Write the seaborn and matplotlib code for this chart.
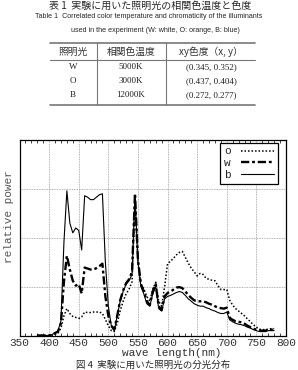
import numpy as np
import pandas as pd
import matplotlib
matplotlib.use("Agg")
import matplotlib.pyplot as plt
from matplotlib.lines import Line2D
import seaborn as sns

# ---------------- data ----------------
wavelength = list(range(380, 785, 5))

series_o = [0, 0, 0, 0, 0, 0, 0.02, 0.05, 0.15, 0.4,
            0.55, 0.45, 0.39, 0.37, 0.35, 0.38, 0.48, 0.47, 0.47, 0.48,
            0.48, 0.48, 0.45, 0.33, 0.2, 0.1, 0.08, 0.25, 0.5, 0.7,
            0.85, 0.95, 1.1, 2.75, 1.5, 1.05, 0.95, 0.8, 0.7, 0.95,
            1.09, 0.7, 0.6, 1.0, 1.47, 1.52, 1.58, 1.65, 1.7, 1.72,
            1.6, 1.48, 1.38, 1.3, 1.22, 1.27, 1.25, 1.17, 1.15, 1.13,
            1.12, 1.02, 0.94, 0.94, 0.94, 0.72, 0.62, 0.55, 0.5, 0.45,
            0.4, 0.34, 0.28, 0.22, 0.17, 0.13, 0.12, 0.12, 0.13, 0.14, 0.14]

series_w = [0, 0, 0, 0, 0, 0.02, 0.05, 0.08, 0.25, 1.1,
            1.63, 1.35, 1.12, 1.02, 1.05, 0.86, 1.39, 1.37, 1.35, 1.35,
            1.38, 1.42, 1.47, 0.8, 0.4, 0.2, 0.12, 0.4, 0.72, 0.92,
            1.07, 1.15, 1.3, 2.9, 1.55, 1.05, 0.9, 0.7, 0.62, 0.9,
            1.05, 0.6, 0.52, 0.8, 0.87, 0.9, 0.94, 0.98, 0.99, 0.97,
            0.9, 0.83, 0.77, 0.72, 0.7, 0.7, 0.7, 0.68, 0.65, 0.63,
            0.6, 0.57, 0.56, 0.55, 0.57, 0.36, 0.32, 0.29, 0.28, 0.27,
            0.24, 0.2, 0.17, 0.14, 0.12, 0.1, 0.1, 0.1, 0.11, 0.12, 0.12]

series_b = [0, 0, 0, 0, 0, 0.02, 0.05, 0.1, 0.3, 1.9,
            2.96, 2.3, 2.1, 2.2, 2.15, 1.75, 2.86, 2.83, 2.78, 2.78,
            2.83, 2.88, 2.9, 1.5, 0.6, 0.2, 0.1, 0.4, 0.7, 0.9,
            1.05, 1.12, 1.25, 2.88, 1.5, 1.0, 0.85, 0.65, 0.6, 0.85,
            1.0, 0.55, 0.5, 0.75, 0.8, 0.82, 0.85, 0.88, 0.9, 0.88,
            0.82, 0.75, 0.7, 0.65, 0.62, 0.6, 0.6, 0.57, 0.55, 0.52,
            0.5, 0.47, 0.45, 0.45, 0.48, 0.32, 0.28, 0.25, 0.23, 0.22,
            0.2, 0.17, 0.15, 0.12, 0.1, 0.08, 0.08, 0.08, 0.1, 0.1, 0.1]

series_labels = ["o", "w", "b"]
x_ticks = [350, 400, 450, 500, 550, 600, 650, 700, 750, 800]

table_title = "表 1  実験に用いた照明光の相関色温度と色度"
table_title_en1 = "Table 1  Correlated color temperature and chromaticity of the illuminants"
table_title_en2 = "used in the experiment (W: white, O: orange, B: blue)"
table_header = ["照明光", "相関色温度", "xy色度（x, y）"]
table_rows = [["W", "5000K", "(0.345, 0.352)"],
              ["O", "3000K", "(0.437, 0.404)"],
              ["B", "12000K", "(0.272, 0.277)"]]
fig_caption = "図 4  実験に用いた照明光の分光分布"
x_label = "wave length(nm)"
y_label = "relative power"

# ---------------- style ----------------
sns.set_style("white")
plt.rcParams["font.family"] = ["Liberation Mono", "Noto Sans CJK JP", "DejaVu Sans"]

W, H = 298, 370
fig = plt.figure(figsize=(W / 100, H / 100), dpi=100)

def fx(px):
    return px / W

def fy(py):
    return 1 - py / H

ax_l, ax_r, ax_t, ax_b = 19.5, 286, 140, 335.5
ax = fig.add_axes([fx(ax_l), fy(ax_b), fx(ax_r - ax_l), (ax_b - ax_t) / H])

df = pd.DataFrame({"wl": wavelength, "o": series_o, "w": series_w, "b": series_b})

sns.lineplot(data=df, x="wl", y="o", ax=ax, color="black", lw=1.1,
             linestyle=(0, (1, 1.3)), label=series_labels[0])
sns.lineplot(data=df, x="wl", y="w", ax=ax, color="black", lw=1.7,
             linestyle=(0, (3.5, 1.2, 1.2, 1.2)), label=series_labels[1])
sns.lineplot(data=df, x="wl", y="b", ax=ax, color="black", lw=0.8,
             linestyle="-", label=series_labels[2])

ax.set_xlim(350, 800)
ax.set_ylim(0, 4)
ax.set_xticks(x_ticks)
ax.set_xticklabels([str(t) for t in x_ticks], fontsize=8, color="#333333")
ax.set_xticks(np.arange(350, 801, 10), minor=True)
ax.set_yticks([1, 2, 3])
ax.set_yticklabels([])
ax.tick_params(axis="y", length=0)
ax.tick_params(axis="x", which="major", length=0, pad=1.5)
ax.tick_params(axis="x", which="minor", direction="in", length=2,
               top=True, bottom=True, width=0.6)
ax.grid(True, which="major", color="#999999", linestyle=(0, (1, 1)), lw=0.6)
for s in ax.spines.values():
    s.set_color("black")
    s.set_linewidth(0.9)

ax.set_xlabel(x_label, fontsize=8, color="#333333")
ax.xaxis.set_label_coords((171.5 - ax_l) / (ax_r - ax_l), -(352.5 - ax_b) / (ax_b - ax_t))
ax.xaxis.label.set_va("center")
ax.set_ylabel(y_label, fontsize=8, color="#555555")
ax.yaxis.set_label_coords(-(ax_l - 9) / (ax_r - ax_l), (ax_b - 217) / (ax_b - ax_t))
ax.yaxis.label.set_va("center")

leg = ax.legend(loc="upper right", bbox_to_anchor=((278 - ax_l) / (ax_r - ax_l), (ax_b - 142.5) / (ax_b - ax_t)),
                markerfirst=False, fancybox=False, frameon=True, fontsize=8,
                handlelength=3.0, handletextpad=0.9, labelspacing=0.15,
                borderpad=0.35, borderaxespad=0)
leg.get_frame().set_edgecolor("black")
leg.get_frame().set_linewidth(0.9)
leg.get_frame().set_alpha(1)

# ---------------- table above the chart ----------------
jp = ["Noto Sans CJK JP", "DejaVu Sans"]
fig.text(fx(150), fy(6), table_title, ha="center", va="center", fontsize=7.2, family=jp)
fig.text(fx(149), fy(17), table_title_en1, ha="center", va="center", fontsize=5.1,
         family=["Liberation Sans", "DejaVu Sans"])
fig.text(fx(155), fy(31), table_title_en2, ha="center", va="center", fontsize=5.1,
         family=["Liberation Sans", "DejaVu Sans"])

t_left, t_right = 50, 255
col_sep = [97, 166]
rule_y = [43, 60, 105]
for i, yy in enumerate(rule_y):
    fig.add_artist(Line2D([fx(t_left), fx(t_right)], [fy(yy), fy(yy)],
                          color="#777777", lw=1.2 if i != 1 else 0.8, transform=fig.transFigure))
for xx in col_sep:
    fig.add_artist(Line2D([fx(xx), fx(xx)], [fy(rule_y[0]), fy(rule_y[2])],
                          color="#777777", lw=0.8, transform=fig.transFigure))

col_x = [73, 131, 211]
for txt, xx in zip(table_header, col_x):
    fig.text(fx(xx), fy(52), txt, ha="center", va="center", fontsize=7, family=jp, color="#333333")
row_y = [67, 81, 95]
for r, yy in zip(table_rows, row_y):
    for c, xx in zip(r, col_x):
        fig.text(fx(xx), fy(yy), c, ha="center", va="center", fontsize=6.5,
                 family=["Liberation Serif", "DejaVu Sans"], color="#222222")

fig.text(fx(153), fy(369.6), fig_caption, ha="center", va="bottom", fontsize=6.8, family=jp)

fig.savefig("out.png", dpi=100)
